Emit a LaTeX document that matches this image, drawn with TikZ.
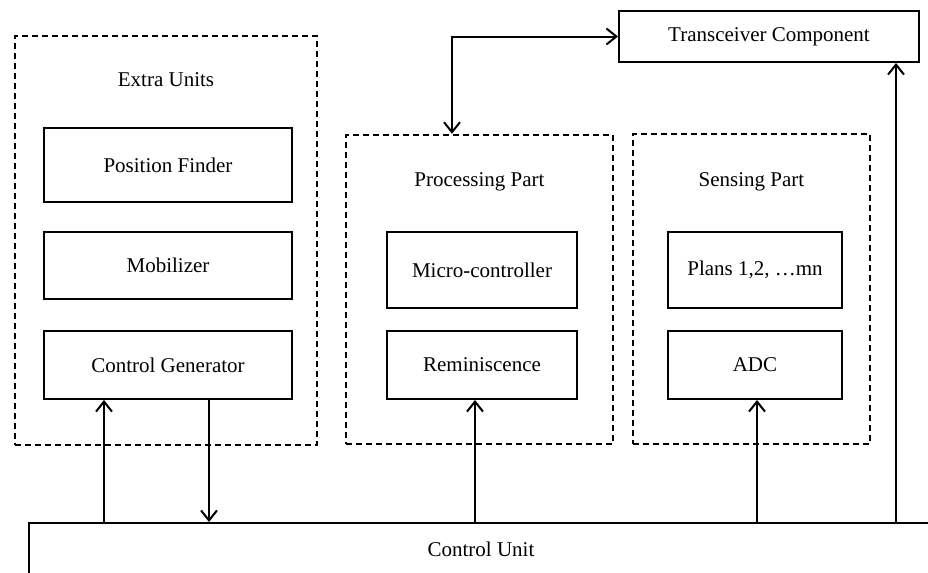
\documentclass[tikz,border=0pt]{standalone}
\usepackage{fontspec}
\setmainfont{Liberation Serif}
\usetikzlibrary{arrows.meta, positioning}

\begin{document}
\begin{tikzpicture}[
    x=0.5pt, y=-0.5pt, % one unit is one pixel of the sketch
    >={Straight Barb[length=5pt, width=8pt]},
    node distance=15pt, % gap between stacked blocks
    every node/.style={font={\fontsize{10.5}{12}\selectfont}},
    block/.style={draw, line width=1pt, minimum width=124pt, minimum height=34pt},
    part/.style={draw, line width=1.2pt, dash pattern=on 3pt off 2pt},
    link/.style={->, line width=1pt}
  ]
  \useasboundingbox (0,0) rectangle (928,573);
  \clip (0,0) rectangle (928,573);

  % dashed groups
  \node[part, minimum width=151pt, minimum height=204.5pt] (ext) at (166,240.5) {};
  \node[part, minimum width=133.5pt, minimum height=154.5pt] (proc) at (479.5,289.5) {};
  \node[part, minimum width=118.5pt, minimum height=155pt] (sens) at (751.5,289) {};

  \node (extlbl) at (166,80) {Extra Units};
  \node (proclbl) at (479.5,182) {Processing Part};
  \node (senslbl) at (751.5,182) {Sensing Part};

  % extra units
  \node[block, minimum height=37pt] (pos) at (168,165) {Position Finder};
  \node[block, minimum height=33.5pt, below=14pt of pos] (mob) {Mobilizer};
  \node[block, below=15pt of mob] (ctg) {Control Generator};

  % processing part
  \node[block, minimum width=95pt, minimum height=38pt] (mcu) at (482,270) {Micro-controller};
  \node[block, minimum width=95pt, below=10.5pt of mcu] (rem) {Reminiscence};

  % sensing part
  \node[block, minimum width=87pt, minimum height=38pt] (pln) at (755,270) {Plans 1,2, \dots mn};
  \node[block, minimum width=87pt, below=10.5pt of pln] (adc) {ADC};

  \node[block, minimum width=150pt, minimum height=25.5pt] (trx) at (769,36.5) {Transceiver Component};
  \node[block, anchor=north west, minimum width=452pt, minimum height=26pt] (cu) at (28,522) {Control Unit};

  \coordinate (ctgin) at ([xshift=30.5pt]ctg.south west);
  \coordinate (ctgout) at ([xshift=83pt]ctg.south west);
  \coordinate (remin) at ([xshift=-3.5pt]rem.south);
  \coordinate (adcin) at ([xshift=1pt]adc.south);
  \coordinate (trxin) at ([xshift=-12pt]trx.south east);
  \coordinate (procin) at ([xshift=-13.75pt]proc.north);

  \draw[link] (cu.north -| ctgin) -- (ctgin);
  \draw[link] (ctgout) -- (cu.north -| ctgout);
  \draw[link] (cu.north -| remin) -- (remin);
  \draw[link] (cu.north -| adcin) -- (adcin);
  \draw[link] (cu.north -| trxin) -- (trxin);
  \draw[link, <->] (procin) |- (trx.west);

\end{tikzpicture}
\end{document}
